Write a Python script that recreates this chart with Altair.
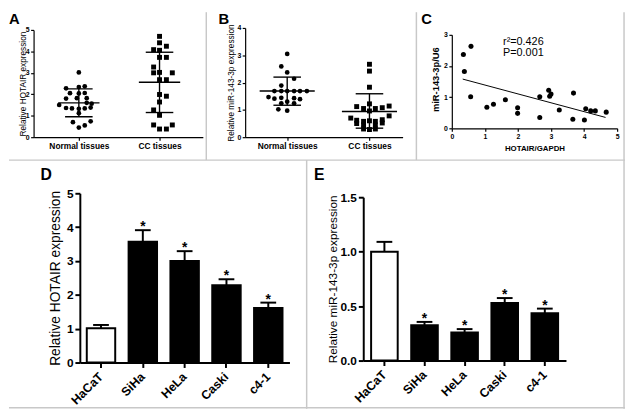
import altair as alt
import pandas as pd

FONT = "Liberation Sans"
W, H = 626, 403
INK = "#000000"
FRAME = "#c8c8c8"

# ---------------- data ----------------
tissue_groups = ["Normal tissues", "CC tissues"]

# Panel A: HOTAIR in tissues (dx = horizontal scatter offset read in px)
a_normal_dx = [0, -13, 0, 6, -9, 0, 6, -13, -2, 8, -20, -13, -7, 0, 6, 12, 8, 13, 0, -6, 12, 0, 6]
a_normal_y = [3.02, 2.28, 2.34, 2.37, 2.05, 2.04, 2.06, 1.80, 1.82, 1.82, 1.50, 1.36, 1.34, 1.32,
              1.34, 1.38, 1.60, 1.56, 1.12, 0.70, 0.74, 0.45, 0.55]
a_cc_dx = [0, 0, -6, 0, 7, 0, 7, -6, -6, 0, 13, 0, 7, 0, 7, 0, -6, 0, -6, 0, 7, 13]
a_cc_y = [4.70, 4.40, 4.08, 4.05, 4.24, 3.72, 3.72, 3.27, 3.00, 3.02, 3.00, 2.68, 2.68, 1.99,
          1.91, 1.64, 1.27, 1.02, 0.57, 0.38, 0.38, 0.57]
a_mean = [1.60, 2.56]
a_sd_hi = [2.25, 3.96]
a_sd_lo = [0.95, 1.15]

# Panel B: miR-143-3p in tissues
b_normal_dx = [0, -6, 0, 7, -6, -13, -6, 0, 7, 13, 20, -19, -13, -6, 7, 13, 0, -6, 7, -9, 0]
b_normal_y = [3.05, 2.59, 2.37, 2.14, 1.89, 1.69, 1.69, 1.69, 1.69, 1.69, 1.69, 1.47, 1.41, 1.44,
              1.43, 1.39, 1.30, 1.24, 1.24, 1.02, 0.97]
b_cc_dx = [0, 0, 0, 0, -13, -6, 6, 13, 20, 0, 20, -19, -13, -6, 0, 6, 13, -13, -6, 6, 13, -6, 0, 6]
b_cc_y = [2.67, 2.42, 1.83, 1.22, 1.12, 1.05, 1.05, 1.08, 1.14, 0.96, 0.78, 0.70, 0.62, 0.58,
          0.60, 0.58, 0.64, 0.50, 0.45, 0.45, 0.52, 0.30, 0.28, 0.30]
b_mean = [1.69, 0.94]
b_sd_hi = [2.20, 1.59]
b_sd_lo = [1.17, 0.33]

# Panel C: correlation
c_x = [0.35, 0.58, 0.38, 0.57, 1.06, 1.26, 1.62, 1.99, 1.99, 2.66, 2.66, 2.93, 2.96, 3.00,
       3.25, 3.68, 3.66, 4.01, 4.05, 4.20, 4.34, 4.67]
c_y = [2.37, 2.63, 1.82, 1.01, 0.68, 0.77, 0.92, 0.66, 0.48, 1.01, 0.35, 1.22, 1.03, 1.10,
       0.59, 1.13, 0.29, 0.27, 0.63, 0.56, 0.56, 0.52]
c_fit_x = [0.33, 4.65]
c_fit_y = [1.58, 0.35]
c_note = ["r\u00b2=0.426", "P=0.001"]
c_note_x = [1.55, 1.55]
c_note_y = [2.69, 2.31]

# Panels D / E: cell lines
cell_lines = ["HaCaT", "SiHa", "HeLa", "Caski", "c4-1"]
d_mean = [1.01, 3.57, 3.00, 2.28, 1.61]
d_sem = [0.10, 0.34, 0.29, 0.18, 0.16]
e_mean = [1.00, 0.325, 0.258, 0.529, 0.435]
e_sem = [0.09, 0.030, 0.031, 0.045, 0.042]
significant = [False, True, True, True, True]


# ---------------- helpers ----------------
def ax(orient, offset, **kw):
    base = dict(orient=orient, offset=offset, grid=False, domainColor=INK, tickColor=INK,
                labelColor=INK, titleColor=INK, labelFont=FONT, titleFont=FONT,
                labelFlush=False, labelOverlap=False)
    base.update(kw)
    return alt.Axis(**base)


def jitter_df(dx_list, y_list, idx, spacing):
    return pd.DataFrame({"x": [idx + d / spacing for d in dx_list], "y": y_list})


def scatter_panel(n_dx, n_y, c_dx, c_y_, mean, hi, lo, spacing, xs, ys, xaxis, yaxis, mean_w, cap_w):
    pts_n = jitter_df(n_dx, n_y, 0, spacing)
    pts_c = jitter_df(c_dx, c_y_, 1, spacing)
    summ = pd.DataFrame({"x": [0, 1], "mean": mean, "hi": hi, "lo": lo})
    X = alt.X("x:Q", scale=xs, axis=xaxis)

    def Y(f):
        return alt.Y(f + ":Q", scale=ys, axis=yaxis)

    l1 = alt.Chart(pts_n).mark_point(shape="circle", filled=True, size=23, color=INK, opacity=1).encode(x=X, y=Y("y"))
    l2 = alt.Chart(pts_c).mark_point(shape="square", filled=True, size=25, color=INK, opacity=1).encode(x=X, y=Y("y"))
    l3 = alt.Chart(summ).mark_tick(orient="horizontal", size=mean_w, thickness=1.4, color=INK, opacity=1).encode(x=X, y=Y("mean"))
    l4 = alt.Chart(summ).mark_tick(orient="horizontal", size=cap_w, thickness=1.4, color=INK, opacity=1).encode(x=X, y=Y("hi"))
    l5 = alt.Chart(summ).mark_tick(orient="horizontal", size=cap_w, thickness=1.4, color=INK, opacity=1).encode(x=X, y=Y("lo"))
    l6 = alt.Chart(summ).mark_rule(strokeWidth=1.4, color=INK).encode(x=X, y=Y("lo"), y2="hi:Q")
    return alt.layer(l1, l2, l3, l4, l5, l6)


cat_expr = f"datum.value == 0 ? '{tissue_groups[0]}' : '{tissue_groups[1]}'"

# ---------------- panel A ----------------
xA = alt.Scale(domain=[-0.561, 1.537], range=[25, 197], nice=False, zero=False)
yA = alt.Scale(domain=[0, 5], range=[127, 18], nice=False, zero=False)
axA_x = ax("bottom", 127 - H, values=[0, 1], labelExpr=cat_expr, title=None, tickSize=3,
           tickWidth=1.2, domainWidth=1.2, labelFontSize=8.5, labelFontWeight="bold", labelPadding=2)
axA_y = ax("left", -25, values=[0, 1, 2, 3, 4, 5], tickSize=3, tickWidth=1.2, domainWidth=1.2,
           labelFontSize=7, labelFontWeight="bold", labelPadding=1.5,
           title="Relative HOTAIR expression", titleFontSize=8.4, titleFontWeight="normal",
           titleX=-11, titleBaseline="middle")
panelA = scatter_panel(a_normal_dx, a_normal_y, a_cc_dx, a_cc_y, a_mean, a_sd_hi, a_sd_lo,
                       82.0, xA, yA, axA_x, axA_y, 42, 28)

# ---------------- panel B ----------------
xB = alt.Scale(domain=[-0.511, 1.403], range=[240, 400], nice=False, zero=False)
yB = alt.Scale(domain=[0, 4], range=[127, 16], nice=False, zero=False)
axB_x = ax("bottom", 127 - H, values=[0, 1], labelExpr=cat_expr, title=None, tickSize=3,
           tickWidth=1.2, domainWidth=1.2, labelFontSize=8.5, labelFontWeight="bold", labelPadding=2)
axB_y = ax("left", -240, values=[0, 1, 2, 3, 4], tickSize=3, tickWidth=1.2, domainWidth=1.2,
           labelFontSize=7, labelFontWeight="bold", labelPadding=1.5,
           title="Relative miR-143-3p expression", titleFontSize=8.4, titleFontWeight="normal",
           titleX=-14.5, titleBaseline="middle")
panelB = scatter_panel(b_normal_dx, b_normal_y, b_cc_dx, b_cc_y, b_mean, b_sd_hi, b_sd_lo,
                       83.6, xB, yB, axB_x, axB_y, 56, 28)

# ---------------- panel C ----------------
xC = alt.Scale(domain=[0, 5], range=[450, 618], nice=False, zero=False)
yC = alt.Scale(domain=[0, 3], range=[118, 23], nice=False, zero=False)
axC_x = ax("bottom", 118 - H, values=[0, 1, 2, 3, 4, 5], tickSize=3, tickWidth=1.2, domainWidth=1.2,
           labelFontSize=7, labelFontWeight="bold", labelPadding=1.5,
           title="HOTAIR/GAPDH", titleFontSize=8, titleFontWeight="bold", titleY=21,
           titleBaseline="middle")
axC_y = ax("left", -450, values=[0, 1, 2, 3], tickSize=3, tickWidth=1.2, domainWidth=1.2,
           labelFontSize=7, labelFontWeight="bold", labelPadding=1.5,
           title="miR-143-3p/U6", titleFontSize=9.5, titleFontWeight="bold",
           titleX=-17, titleY=68, titleBaseline="middle")
dfC = pd.DataFrame({"x": c_x, "y": c_y})
dfFit = pd.DataFrame({"x": c_fit_x, "y": c_fit_y})
dfNote = pd.DataFrame({"x": c_note_x, "y": c_note_y, "t": c_note})
XC = alt.X("x:Q", scale=xC, axis=axC_x)
YC = alt.Y("y:Q", scale=yC, axis=axC_y)
panelC = alt.layer(
    alt.Chart(dfC).mark_point(shape="circle", filled=True, size=26, color=INK, opacity=1).encode(x=XC, y=YC),
    alt.Chart(dfFit).mark_line(color=INK, strokeWidth=1).encode(x=XC, y=YC),
    alt.Chart(dfNote).mark_text(align="left", baseline="alphabetic", font=FONT, fontSize=11,
                                color=INK).encode(x=XC, y=YC, text="t:N"),
)


# ---------------- panels D / E ----------------
def bar_panel(means, sems, xs, ys, xaxis, yaxis):
    df = pd.DataFrame({
        "cell": cell_lines,
        "mean": means,
        "top": [m + s for m, s in zip(means, sems)],
        "fill": ["#ffffff" if not s else INK for s in significant],
        "star": significant,
    })
    X = alt.X("cell:N", scale=xs, axis=xaxis, sort=cell_lines)

    def Y(f):
        return alt.Y(f + ":Q", scale=ys, axis=yaxis)

    bars = alt.Chart(df).mark_bar(stroke=INK, strokeWidth=2).encode(
        x=X, y=Y("mean"), y2=alt.datum(0), fill=alt.Fill("fill:N", scale=None))
    err = alt.Chart(df).mark_rule(strokeWidth=2, color=INK).encode(x=X, y=Y("mean"), y2="top:Q")
    cap = alt.Chart(df).mark_tick(orient="horizontal", size=16, thickness=2, color=INK, opacity=1).encode(x=X, y=Y("top"))
    stars = alt.Chart(df).transform_filter("datum.star").mark_text(
        text="*", font=FONT, fontSize=14, fontWeight="bold", baseline="alphabetic", dy=1, color=INK
    ).encode(x=X, y=Y("top"))
    return alt.layer(bars, err, cap, stars)


xD = alt.Scale(domain=cell_lines, range=[72, 285], paddingInner=0.32, paddingOuter=0.166)
yD = alt.Scale(domain=[0, 5], range=[356, 184], nice=False, zero=False)
axD_x = ax("bottom", 356 - H, title=None, labelAngle=-45, labelAlign="right", labelBaseline="middle",
           labelFontSize=12.5, labelFontWeight="bold", tickSize=5, tickWidth=2, domainWidth=2, labelPadding=7)
axD_y = ax("left", -72, values=[0, 1, 2, 3, 4, 5], tickSize=5, tickWidth=2, domainWidth=2,
           labelFontSize=12, labelFontWeight="bold", labelPadding=2,
           title="Relative HOTAIR expression", titleFontSize=14, titleFontWeight="normal",
           titleX=-25, titleBaseline="middle")
panelD = bar_panel(d_mean, d_sem, xD, yD, axD_x, axD_y)

xE = alt.Scale(domain=cell_lines, range=[360, 566], paddingInner=0.337, paddingOuter=0.196)
yE = alt.Scale(domain=[0, 1.5], range=[354, 188], nice=False, zero=False)
axE_x = ax("bottom", 354 - H, title=None, labelAngle=-45, labelAlign="right", labelBaseline="middle",
           labelFontSize=12.5, labelFontWeight="bold", tickSize=5, tickWidth=2, domainWidth=2, labelPadding=7)
axE_y = ax("left", -360, values=[0, 0.5, 1.0, 1.5], format=".1f", tickSize=5, tickWidth=2, domainWidth=2,
           labelFontSize=12, labelFontWeight="bold", labelPadding=2,
           title="Relative miR-143-3p expression", titleFontSize=12, titleFontWeight="normal",
           titleX=-31, titleBaseline="middle")
panelE = bar_panel(e_mean, e_sem, xE, yE, axE_x, axE_y)

# ---------------- decorations: panel letters and frame ----------------
one = pd.DataFrame({"k": [0]})


def letter(t, x, y, size, baseline):
    return alt.Chart(one).mark_text(text=t, font=FONT, fontSize=size, fontWeight="bold",
                                    align="left", baseline=baseline, color=INK).encode(
        x=alt.value(x), y=alt.value(y))


def frame_line(x, x2, y, y2):
    return alt.Chart(one).mark_rule(color=FRAME, strokeWidth=1.5).encode(
        x=alt.value(x), x2=alt.value(x2), y=alt.value(y), y2=alt.value(y2))


decor = [
    letter("A", 0, 0, 15, "top"),
    letter("B", 213, 0, 15, "top"),
    letter("C", 419, 0, 15, "top"),
    letter("D", 32, 171, 16, "alphabetic"),
    letter("E", 310, 170, 16, "alphabetic"),
    frame_line(200.5, 200.5, 0, 150.3),
    frame_line(414, 414, 0, 150.3),
    frame_line(0, W, 150.3, 150.3),
    frame_line(302.5, 302.5, 150.3, H),
    frame_line(625, 625, 0, H),
    frame_line(0, W, 402, 402),
]

chart = alt.layer(panelA, panelB, panelC, panelD, panelE, *decor).resolve_scale(
    x="independent", y="independent"
).properties(width=W, height=H, padding=0).configure_view(stroke=None)

chart.save("out.html", embed_options={"renderer": "svg", "actions": False})
